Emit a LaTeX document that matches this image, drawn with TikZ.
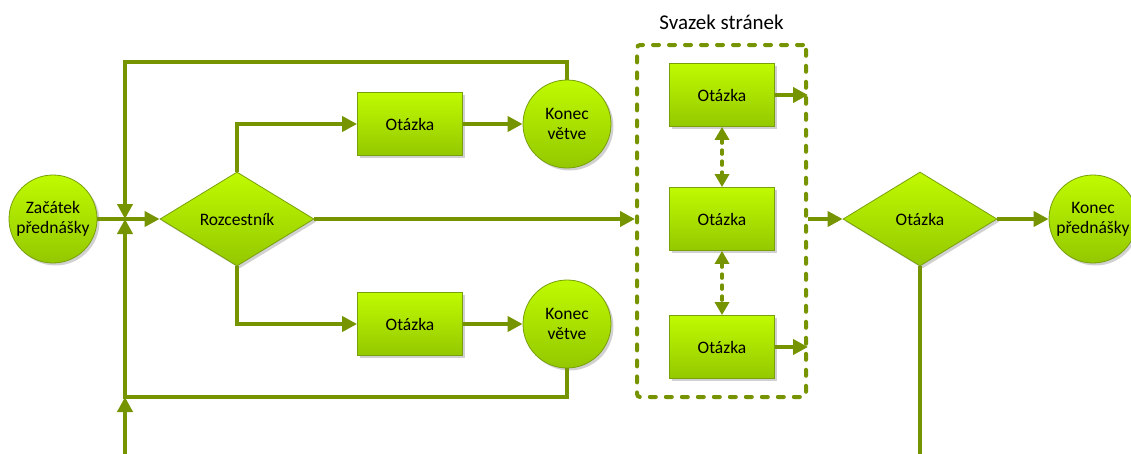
\documentclass[tikz,border=0pt]{standalone}
\usepackage{fontspec}
\setmainfont{Carlito}
\usetikzlibrary{arrows.meta,shapes.geometric,shadows,positioning}
\definecolor{lineg}{RGB}{118,147,0}
\definecolor{topg}{RGB}{192,250,0}
\definecolor{botg}{RGB}{148,200,0}
\definecolor{edgeg}{RGB}{120,160,10}
\tikzset{
  base/.style={draw=edgeg, line width=0.8pt, top color=topg, bottom color=botg,
    inner sep=0pt, align=center, font=\fontsize{17.5}{20}\selectfont,
    drop shadow={shadow xshift=2.5pt, shadow yshift=-2.5pt, opacity=0.18, fill=black}},
  qbox/.style={base, rectangle, minimum width=105pt, minimum height=63pt},
  rnd/.style={base, circle, minimum size=88pt},
  dia/.style={base, diamond, aspect=1.64, minimum width=154pt, minimum height=94pt},
  conn/.style={draw=lineg, line width=4pt},
  arr/.style={conn, -{Triangle[length=15pt,width=15pt]}},
  grpbox/.style={draw=lineg, line width=4pt, dash pattern=on 6pt off 10pt, line cap=round,
    rounded corners=3pt, minimum width=169pt, minimum height=352pt, inner sep=0pt},
  darr/.style={draw=lineg, line width=3.5pt, dash pattern=on 4pt off 7pt, line cap=round,
    {Triangle[length=13pt,width=14pt]}-{Triangle[length=13pt,width=14pt]}},
  lbl/.style={font=\fontsize{21}{24}\selectfont}
}
\begin{document}
\begin{tikzpicture}[x=1pt,y=-1pt]
\clip (0,0) rectangle (1131,453);
\fill[white] (0,0) rectangle (1131,453);
% nodes
\node[rnd] (start) at (53,219) {Začátek\\přednášky};
\node[dia] (roz) at (237,219) {Rozcestník};
\node[qbox] (q1) at (410,124) {Otázka};
\node[rnd] (k1) at (567,124) {Konec\\větve};
\node[qbox] (q2) at (410,324) {Otázka};
\node[rnd] (k2) at (567,324) {Konec\\větve};
\node[grpbox] (grp) at (721.5,221) {};
\node[lbl] (grplbl) at (721.5,22) {Svazek stránek};
\node[qbox] (ga) at (722,95) {Otázka};
\node[qbox] (gb) at (722,219) {Otázka};
\node[qbox] (gc) at (722,347) {Otázka};
\node[dia] (d2) at (920,219) {Otázka};
\node[rnd] (kend) at (1093,219) {Konec\\přednášky};
% coordinates
\coordinate (j) at (125,219);
\coordinate (tl) at (125,62);
\coordinate (bl) at (125,397);
\coordinate (bin) at (125,460);
\coordinate (dout) at (920,460);
% connectors
\draw[arr] (start.east) -- (roz.west);
\draw[arr] (k1.north) |- (tl) -- (j);
\draw[arr] (k2.south) |- (bl) -- (j);
\draw[arr] (bin) -- (bl);
\draw[arr] (roz.north) |- (q1.west);
\draw[arr] (roz.south) |- (q2.west);
\draw[arr] (q1.east) -- (k1.west);
\draw[arr] (q2.east) -- (k2.west);
\draw[arr] (roz.east) -- (roz.east -| grp.west);
\draw[darr] (ga.south) -- (gb.north);
\draw[darr] (gb.south) -- (gc.north);
\draw[arr] (ga.east) -- (ga.east -| grp.east);
\draw[arr] (gc.east) -- (gc.east -| grp.east);
\draw[arr] (gb.east -| grp.east) -- (d2.west);
\draw[arr] (d2.east) -- (kend.west);
\draw[conn] (d2.south) -- (dout);
\end{tikzpicture}
\end{document}
